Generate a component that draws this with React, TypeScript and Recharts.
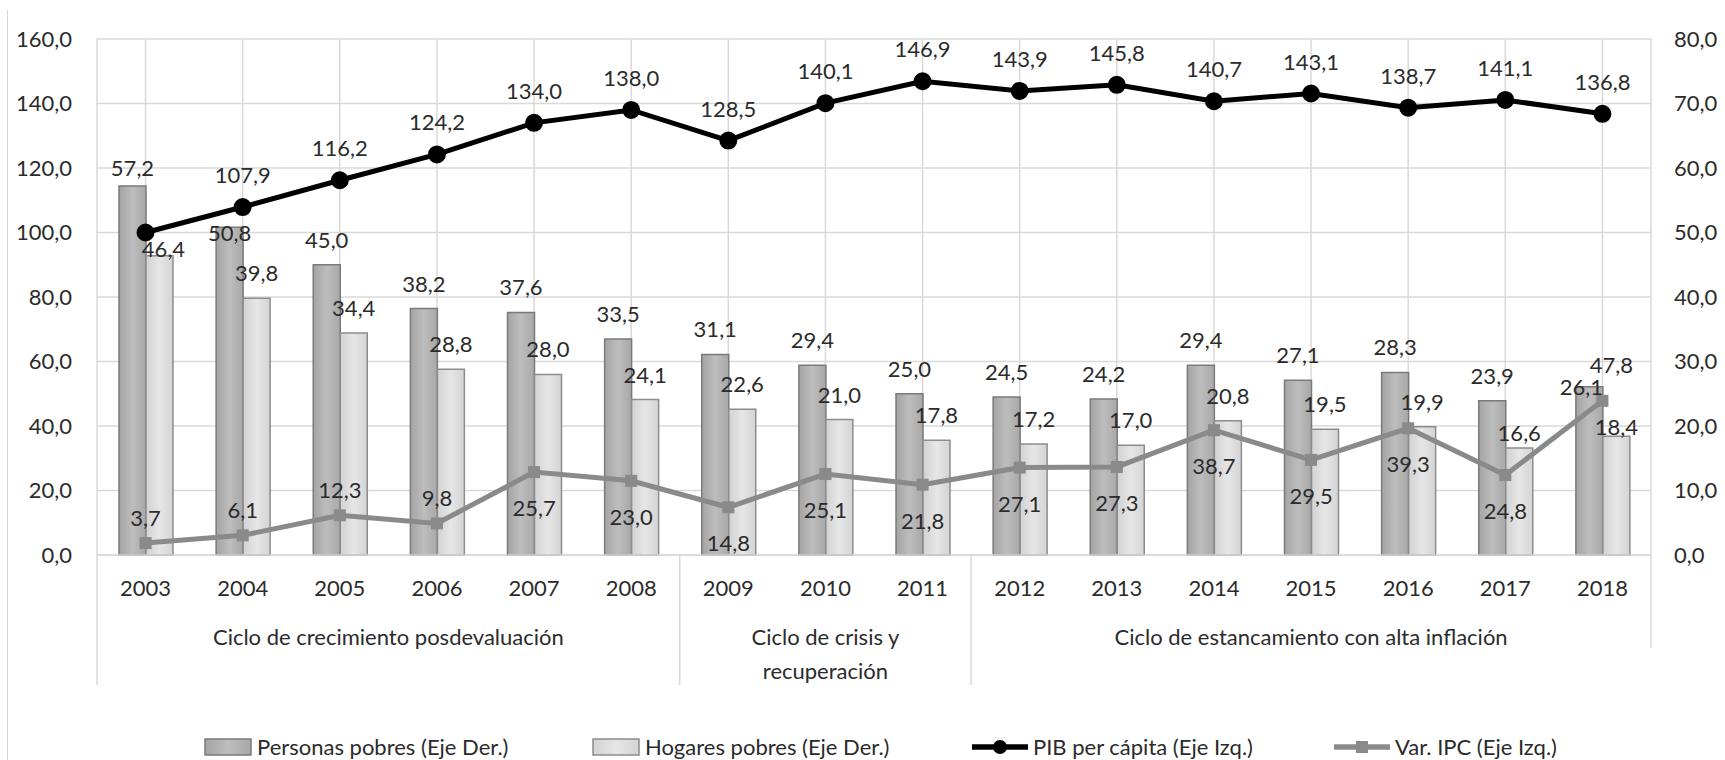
import React from 'react';
import { Bar, CartesianGrid, ComposedChart, LabelList, Line, XAxis, YAxis } from 'recharts';

if (typeof document !== 'undefined') document.body.style.margin = '0';

const years = ['2003', '2004', '2005', '2006', '2007', '2008', '2009', '2010', '2011', '2012', '2013', '2014', '2015', '2016', '2017', '2018'];
const personasPobres = [57.2, 50.8, 45.0, 38.2, 37.6, 33.5, 31.1, 29.4, 25.0, 24.5, 24.2, 29.4, 27.1, 28.3, 23.9, 26.1];
const hogaresPobres = [46.4, 39.8, 34.4, 28.8, 28.0, 24.1, 22.6, 21.0, 17.8, 17.2, 17.0, 20.8, 19.5, 19.9, 16.6, 18.4];
const pibPerCapita = [100.0, 107.9, 116.2, 124.2, 134.0, 138.0, 128.5, 140.1, 146.9, 143.9, 145.8, 140.7, 143.1, 138.7, 141.1, 136.8];
const varIpc = [3.7, 6.1, 12.3, 9.8, 25.7, 23.0, 14.8, 25.1, 21.8, 27.1, 27.3, 38.7, 29.5, 39.3, 24.8, 47.8];

const leftTicks = [0, 20, 40, 60, 80, 100, 120, 140, 160];
const rightTicks = [0, 10, 20, 30, 40, 50, 60, 70, 80];

const groupLabels = [
  ['Ciclo de crecimiento posdevaluación'],
  ['Ciclo de crisis y', 'recuperación'],
  ['Ciclo de estancamiento con alta inflación'],
];
const groupSizes = [6, 3, 7];

const seriesNames = [
  'Personas pobres (Eje Der.)',
  'Hogares pobres (Eje Der.)',
  'PIB per cápita (Eje Izq.)',
  'Var. IPC (Eje Izq.)',
];

const data = years.map((year, i) => ({
  year,
  personas: personasPobres[i],
  hogares: hogaresPobres[i],
  pib: pibPerCapita[i],
  ipc: varIpc[i],
}));

const FONT = 'Lato, "Open Sans", sans-serif';
const TEXT = '#2b2b2b';
const GRID = '#d9d9d9';
const FS = 22;

const fmt = (v: number) => Number(v).toFixed(1).replace('.', ',');

// label nudges (center offset from bar top), like the hand-moved labels of the original
const personasNudge: Record<number, [number, number]> = { 0: [0, -18], 1: [0, 6], 15: [-8, 0] };
const hogaresNudge: Record<number, [number, number]> = { 0: [4, -7], 14: [0, -15], 15: [0, -9] };
const ipcAbove = new Set([0, 1, 2, 3, 15]);

const makeBarLabel = (nudge: Record<number, [number, number]>) => (props: any) => {
  const { x, y, width, value, index } = props;
  const [dx, dy] = nudge[index] ?? [0, -25];
  return (
    <text x={Number(x) + Number(width) / 2 + dx} y={Number(y) + dy + 8} textAnchor="middle" fill={TEXT} fontSize={FS} fontFamily={FONT}>
      {fmt(value)}
    </text>
  );
};

const pibLabel = (props: any) => {
  const { x, y, value, index } = props;
  if (index === 0) return null;
  return (
    <text x={Number(x)} y={Number(y) - 24} textAnchor="middle" fill={TEXT} fontSize={FS} fontFamily={FONT}>
      {fmt(value)}
    </text>
  );
};

const ipcLabel = (props: any) => {
  const { x, y, value, index } = props;
  let dy = 44;
  let dx = 0;
  if (ipcAbove.has(index)) dy = -17;
  if (index === years.length - 1) {
    dy = -28;
    dx = 9;
  }
  return (
    <text x={Number(x) + dx} y={Number(y) + dy} textAnchor="middle" fill={TEXT} fontSize={FS} fontFamily={FONT}>
      {fmt(value)}
    </text>
  );
};

const ipcDot = (props: any) => {
  const { cx, cy, index } = props;
  return <rect key={`ipc-${index}`} x={cx - 6} y={cy - 6} width={12} height={12} fill="#8a8a8a" />;
};

const groupStarts = groupSizes.map((_, g) => groupSizes.slice(0, g).reduce((a, b) => a + b, 0));

const CategoryTick = (props: any) => {
  const { x, y, payload, index } = props;
  const half = payload?.offset > 0 ? payload.offset : (1651 - 97) / years.length / 2;
  const g = groupStarts.indexOf(index);
  return (
    <g>
      <text x={x} y={y + 41} textAnchor="middle" fill={TEXT} fontSize={FS} fontFamily={FONT}>
        {payload.value}
      </text>
      {g >= 0 && (
        <g>
          <line x1={x - half} x2={x - half} y1={y} y2={y + 130} stroke={GRID} strokeWidth={1.5} />
          {groupLabels[g].map((line, k) => (
            <text
              key={k}
              x={x - half + groupSizes[g] * half}
              y={y + 90 + k * 34}
              textAnchor="middle"
              fill={TEXT}
              fontSize={FS}
              fontFamily={FONT}
            >
              {line}
            </text>
          ))}
        </g>
      )}
      {index === years.length - 1 && (
        <line x1={x + half} x2={x + half} y1={y} y2={y + 93} stroke={GRID} strokeWidth={1.5} />
      )}
    </g>
  );
};

const Swatch = ({ id }: { id: string }) => (
  <svg width={48} height={18} style={{ display: 'block' }}>
    <rect x={1} y={1} width={46} height={16} fill={`url(#${id})`} stroke={id === 'gPersonas' ? '#7a7a7a' : '#8c8c8c'} strokeWidth={1.5} />
  </svg>
);

const LineIcon = ({ color, square }: { color: string; square?: boolean }) => (
  <svg width={56} height={18} style={{ display: 'block' }}>
    <line x1={0} x2={56} y1={9} y2={9} stroke={color} strokeWidth={5.5} />
    {square ? <rect x={22} y={3} width={12} height={12} fill={color} /> : <circle cx={28} cy={9} r={7} fill={color} />}
  </svg>
);

const legendItems = [
  { left: 204, icon: <Swatch id="gPersonas" /> },
  { left: 592, icon: <Swatch id="gHogares" /> },
  { left: 972, icon: <LineIcon color="#000" /> },
  { left: 1334, icon: <LineIcon color="#8a8a8a" square /> },
];

export default function App() {
  return (
    <div style={{ position: 'relative', width: 1725, height: 760, background: '#fff', overflow: 'hidden' }}>
      <svg width={0} height={0} style={{ position: 'absolute' }}>
        <defs>
          <linearGradient id="gPersonas" x1="0" x2="1" y1="0" y2="0">
            <stop offset="0%" stopColor="#a4a4a4" />
            <stop offset="50%" stopColor="#bdbdbd" />
            <stop offset="100%" stopColor="#a8a8a8" />
          </linearGradient>
          <linearGradient id="gHogares" x1="0" x2="1" y1="0" y2="0">
            <stop offset="0%" stopColor="#d2d2d2" />
            <stop offset="50%" stopColor="#e6e6e6" />
            <stop offset="100%" stopColor="#d4d4d4" />
          </linearGradient>
        </defs>
      </svg>
      {/* left edge of the chart frame */}
      <div style={{ position: 'absolute', left: 7, top: 10, bottom: 0, width: 1, background: '#d6d6d6' }} />
      <ComposedChart
        width={1725}
        height={760}
        data={data}
        margin={{ top: 39, right: 0, bottom: 0, left: 0 }}
        barGap={0}
        style={{ fontFamily: FONT }}
      >
        <defs>
          <linearGradient id="gPersonasBar" x1="0" x2="1" y1="0" y2="0">
            <stop offset="0%" stopColor="#a4a4a4" />
            <stop offset="50%" stopColor="#bdbdbd" />
            <stop offset="100%" stopColor="#a8a8a8" />
          </linearGradient>
          <linearGradient id="gHogaresBar" x1="0" x2="1" y1="0" y2="0">
            <stop offset="0%" stopColor="#d2d2d2" />
            <stop offset="50%" stopColor="#e6e6e6" />
            <stop offset="100%" stopColor="#d4d4d4" />
          </linearGradient>
        </defs>
        <CartesianGrid yAxisId="left" stroke={GRID} strokeWidth={1.5} />
        <XAxis
          dataKey="year"
          height={205}
          interval={0}
          tickLine={false}
          tickSize={0}
          tickMargin={0}
          axisLine={{ stroke: GRID, strokeWidth: 1.5 }}
          tick={<CategoryTick />}
        />
        <YAxis
          yAxisId="left"
          width={97}
          domain={[0, 160]}
          ticks={leftTicks}
          axisLine={false}
          tickLine={false}
          tickSize={0}
          tickMargin={25}
          tickFormatter={fmt}
          tick={{ fill: TEXT, fontSize: FS, fontFamily: FONT }}
        />
        <YAxis
          yAxisId="right"
          orientation="right"
          width={74}
          domain={[0, 80]}
          ticks={rightTicks}
          axisLine={false}
          tickLine={false}
          tickSize={0}
          tickMargin={23}
          tickFormatter={fmt}
          tick={{ fill: TEXT, fontSize: FS, fontFamily: FONT, textAnchor: 'start' }}
        />
        <Bar yAxisId="right" dataKey="personas" name={seriesNames[0]} barSize={27} fill="url(#gPersonasBar)" stroke="#7a7a7a" strokeWidth={1.5} isAnimationActive={false}>
          <LabelList dataKey="personas" content={makeBarLabel(personasNudge)} />
        </Bar>
        <Bar yAxisId="right" dataKey="hogares" name={seriesNames[1]} barSize={27} fill="url(#gHogaresBar)" stroke="#8c8c8c" strokeWidth={1.5} isAnimationActive={false}>
          <LabelList dataKey="hogares" content={makeBarLabel(hogaresNudge)} />
        </Bar>
        <Line yAxisId="left" dataKey="ipc" name={seriesNames[3]} stroke="#8a8a8a" strokeWidth={5} dot={ipcDot} activeDot={false} isAnimationActive={false}>
          <LabelList dataKey="ipc" content={ipcLabel} />
        </Line>
        <Line yAxisId="left" dataKey="pib" name={seriesNames[2]} stroke="#000" strokeWidth={5} dot={{ r: 6.5, fill: '#000', stroke: '#000' }} activeDot={false} isAnimationActive={false}>
          <LabelList dataKey="pib" content={pibLabel} />
        </Line>
      </ComposedChart>
      {legendItems.map((item, i) => (
        <div
          key={i}
          style={{
            position: 'absolute',
            left: item.left,
            top: 734,
            display: 'flex',
            alignItems: 'center',
            gap: 5,
            fontFamily: FONT,
            fontSize: FS,
            color: TEXT,
            whiteSpace: 'nowrap',
            lineHeight: '26px',
          }}
        >
          {item.icon}
          <span>{seriesNames[i]}</span>
        </div>
      ))}
    </div>
  );
}
